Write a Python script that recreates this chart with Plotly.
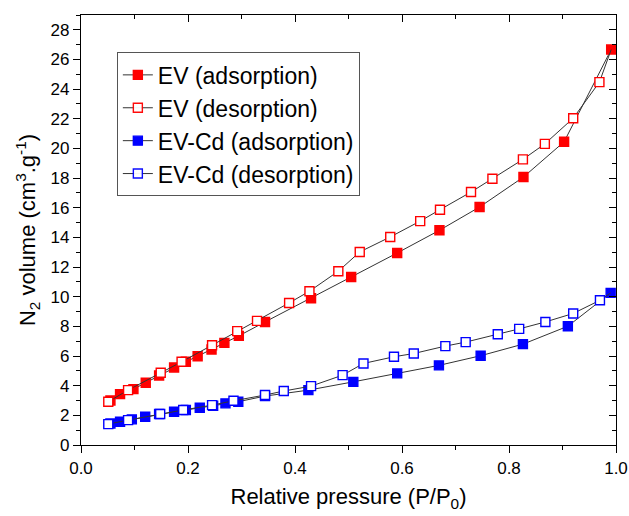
import plotly.graph_objects as go

# EV adsorption (filled red)
ev_ads_x = [0.055, 0.073, 0.098, 0.121, 0.146, 0.174, 0.196, 0.218, 0.244, 0.268, 0.295,
            0.344, 0.430, 0.505, 0.591, 0.670, 0.745, 0.827, 0.903, 0.991]
ev_ads_y = [3.00, 3.43, 3.77, 4.20, 4.69, 5.23, 5.61, 5.99, 6.44, 6.89, 7.36,
            8.30, 9.90, 11.33, 12.95, 14.48, 16.05, 18.07, 20.45, 26.67]
# EV desorption (open red)
ev_des_x = [0.969, 0.920, 0.867, 0.826, 0.769, 0.729, 0.671, 0.634, 0.578, 0.521, 0.481,
            0.427, 0.389, 0.329, 0.292, 0.245, 0.188, 0.149, 0.088, 0.051]
ev_des_y = [24.47, 22.04, 20.31, 19.26, 17.96, 17.06, 15.87, 15.10, 14.03, 13.02, 11.72,
            10.37, 9.58, 8.37, 7.68, 6.73, 5.61, 4.87, 3.70, 2.92]
# EV-Cd adsorption (filled blue)
cd_ads_x = [0.055, 0.073, 0.095, 0.120, 0.146, 0.174, 0.196, 0.222, 0.247, 0.270, 0.294,
            0.344, 0.425, 0.509, 0.591, 0.669, 0.747, 0.826, 0.910, 0.990]
cd_ads_y = [1.45, 1.57, 1.73, 1.91, 2.09, 2.24, 2.36, 2.51, 2.65, 2.81, 2.92,
            3.30, 3.70, 4.26, 4.83, 5.37, 6.02, 6.80, 8.01, 10.26]
# EV-Cd desorption (open blue)
cd_des_x = [0.970, 0.920, 0.868, 0.819, 0.779, 0.719, 0.681, 0.622, 0.585, 0.528, 0.489,
            0.430, 0.379, 0.344, 0.285, 0.245, 0.191, 0.148, 0.088, 0.051]
cd_des_y = [9.76, 8.87, 8.30, 7.83, 7.47, 6.94, 6.67, 6.17, 5.95, 5.50, 4.71,
            3.97, 3.64, 3.37, 2.98, 2.69, 2.36, 2.09, 1.68, 1.41]

x_ticks = [0.0, 0.2, 0.4, 0.6, 0.8, 1.0]
y_ticks = list(range(0, 29, 2))

FONT = "Liberation Sans, Arial, sans-serif"
RED = "#FF0000"
BLUE = "#0000FF"

fig = go.Figure()


def add_series(x, y, name, color, filled, rank, start=None):
    xs, ys = list(x), list(y)
    op = [1.0] * len(xs)
    if start is not None:
        # desorption branch starts from the top adsorption point
        xs = [start[0]] + xs
        ys = [start[1]] + ys
        op = [0.0] + op
    fig.add_trace(go.Scatter(
        x=xs, y=ys, name=name, mode="lines+markers",
        line=dict(color="#333333", width=1),
        marker=dict(symbol="square", size=9,
                    color=color if filled else "white",
                    opacity=op,
                    line=dict(color=color, width=1.4)),
        legendrank=rank,
    ))


add_series(ev_ads_x, ev_ads_y, "EV (adsorption)", RED, True, 1)
add_series(cd_ads_x, cd_ads_y, "EV-Cd (adsorption)", BLUE, True, 3)
add_series(ev_des_x, ev_des_y, "EV (desorption)", RED, False, 2,
           start=(ev_ads_x[-1], ev_ads_y[-1]))
add_series(cd_des_x, cd_des_y, "EV-Cd (desorption)", BLUE, False, 4,
           start=(cd_ads_x[-1], cd_ads_y[-1]))

# invisible trace for the mirrored (inside) tick axes
fig.add_trace(go.Scatter(x=[None], y=[None], xaxis="x2", yaxis="y2", showlegend=False,
                         mode="markers", hoverinfo="skip"))

axis_common = dict(showgrid=False, zeroline=False, linecolor="black", linewidth=1.3,
                   tickcolor="black", tickwidth=1.3, automargin=False,
                   tickfont=dict(family=FONT, size=17, color="black"))

fig.update_layout(
    width=629, height=516,
    margin=dict(l=81, r=13, t=15, b=71),
    paper_bgcolor="white", plot_bgcolor="white",
    font=dict(family=FONT, color="black"),
    xaxis=dict(range=[0, 1], tickvals=x_ticks, ticktext=[f"{v:.1f}" for v in x_ticks],
               ticks="outside", ticklen=7, showline=True, mirror=True,
               minor=dict(dtick=0.1, ticks="outside", ticklen=4, tickcolor="black", tickwidth=1.3),
               title=dict(text="Relative pressure (P/P<sub>0</sub>)",
                          font=dict(family=FONT, size=22), standoff=12),
               **axis_common),
    yaxis=dict(range=[0, 29], tickvals=y_ticks, ticks="outside", ticklen=7,
               showline=True, mirror=True,
               minor=dict(dtick=1, ticks="outside", ticklen=4, tickcolor="black", tickwidth=1.3),
               title=dict(text="N<sub>2</sub> volume (cm<sup>3</sup>.g<sup>-1</sup>)",
                          font=dict(family=FONT, size=22), standoff=8),
               **axis_common),
    xaxis2=dict(range=[0, 1], overlaying="x", side="top", anchor="y", automargin=False,
                tickvals=x_ticks, ticks="inside", ticklen=7, showticklabels=False,
                minor=dict(dtick=0.1, ticks="inside", ticklen=4, tickcolor="black", tickwidth=1.3),
                showgrid=False, zeroline=False, showline=False, tickcolor="black", tickwidth=1.3),
    yaxis2=dict(range=[0, 29], overlaying="y", side="right", anchor="x", automargin=False,
                tickvals=y_ticks, ticks="inside", ticklen=7, showticklabels=False,
                minor=dict(dtick=1, ticks="inside", ticklen=4, tickcolor="black", tickwidth=1.3),
                showgrid=False, zeroline=False, showline=False, tickcolor="black", tickwidth=1.3),
    legend=dict(x=0.067, y=0.913, xanchor="left", yanchor="top",
                bgcolor="white", bordercolor="#555555", borderwidth=1,
                font=dict(family=FONT, size=23, color="black"),
                tracegroupgap=0),
    showlegend=True,
)

fig.write_html("out.html")
